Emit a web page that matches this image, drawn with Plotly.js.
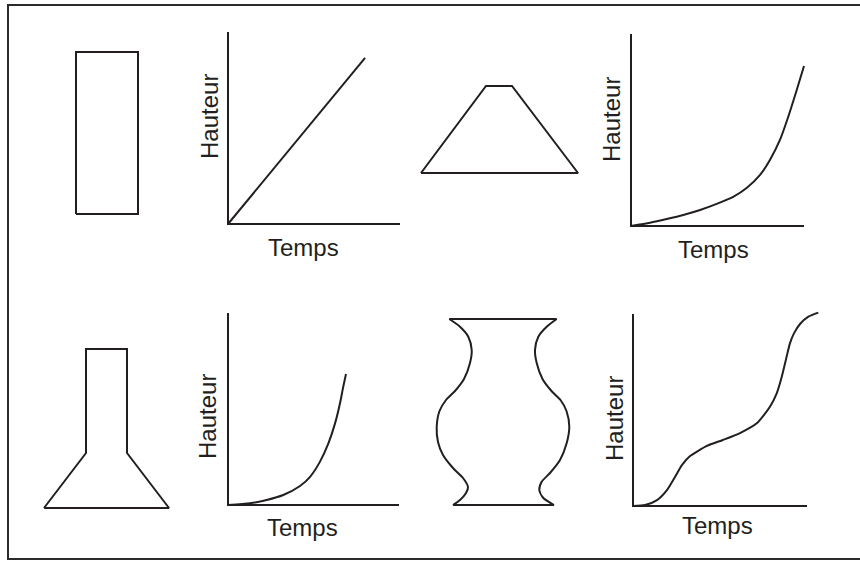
<!DOCTYPE html>
<html><head><meta charset="utf-8">
<script src="https://cdn.plot.ly/plotly-3.0.1.min.js"></script>
<style>html,body{margin:0;padding:0;background:#fff}#chart{width:860px;height:561px}</style>
</head><body><div id="chart"></div>
<script>
// ---------- DATA ----------
const labelTime = 'Temps';
const labelHeight = 'Hauteur';
const TMAX = 10, HMAX = 10;   // axis extent (arbitrary units)

// Height vs time for each vessel
const cylinderT = [0, 7.97];
const cylinderH = [0, 8.65];

const coneT = [0, 1.10, 2.06, 3.02, 3.99, 4.95, 5.93, 6.70, 7.46, 8.03, 8.61, 9.09, 9.58, 10.0];
const coneH = [0, 0.17, 0.36, 0.57, 0.83, 1.15, 1.53, 1.99, 2.66, 3.44, 4.48, 5.69, 7.08, 8.33];

const flaskT = [0, 1.29, 2.26, 3.23, 4.21, 4.80, 5.38, 5.87, 6.26, 6.55, 6.74, 6.90];
const flaskH = [0, 0.09, 0.26, 0.52, 0.99, 1.47, 2.26, 3.21, 4.25, 5.30, 6.16, 6.82];

const vaseT = [0, 0.69, 1.38, 1.95, 2.41, 2.82, 3.28, 4.25, 5.17, 6.15, 7.13, 7.87, 8.26, 8.55, 8.83, 9.02, 9.25, 9.60, 10.08, 10.65];
const vaseH = [0, 0.05, 0.31, 0.83, 1.51, 2.14, 2.60, 3.13, 3.44, 3.80, 4.32, 5.17, 5.87, 6.73, 7.78, 8.47, 8.99, 9.48, 9.86, 10.07];

// Vessel outlines (local drawing units)
const rectX = [0, 62, 62, 0, 0];
const rectY = [0, 0, 162, 162, 0];
const trapX = [0, 157, 91, 65, 0];
const trapY = [0, 0, 87, 87, 0];
const flaskX = [0, 125, 83, 83, 42, 42, 0];
const flaskY = [0, 0, 55, 159, 159, 55, 0];
const vaseLeftX  = [13.3, 24, 32.3, 35.7, 34, 28, 19, 10, 3.5, 0.7, 2, 7, 17, 27, 32, 30, 24, 17];
const vaseLeftY  = [186, 178.3, 168.3, 155, 142, 126, 114, 105, 94, 78.3, 63, 50, 37, 27, 18, 12, 5, 0];
const vaseRightX = [120.7, 110.7, 102.3, 99, 100.7, 106.5, 115.5, 124.5, 130.5, 133.3, 130.7, 124, 114, 105.7, 103.3, 107.3, 118];
const vaseRightY = [186, 178.3, 168.3, 155, 142, 126, 114, 105, 94, 78.3, 62, 45, 32, 23.3, 15, 7, 0];

// ---------- LAYOUT HELPERS ----------
const W = 860, H = 561;
const INK = '#231f20';
const FONT = 'Liberation Sans, Arial, Helvetica, sans-serif';

const hiddenAxis = {showgrid:false, zeroline:false, showticklabels:false, ticks:'', showline:false, fixedrange:true};

const layout = {
  width: W, height: H,
  margin: {l:0, r:0, t:0, b:0},
  paper_bgcolor: '#ffffff', plot_bgcolor: 'rgba(0,0,0,0)',
  showlegend: false, hovermode: false,
  shapes: [], annotations: []
};
const traces = [];

function chartPanel(n, box, t, h, padR) {
  const pad = 6, pr = padR || pad;
  const sx = TMAX / (box.r - box.l), sy = HMAX / (box.b - box.t);
  const xa = n === 1 ? 'xaxis' : 'xaxis' + n, ya = n === 1 ? 'yaxis' : 'yaxis' + n;
  const xr = n === 1 ? 'x' : 'x' + n, yr = n === 1 ? 'y' : 'y' + n;
  layout[xa] = Object.assign({}, hiddenAxis, {
    anchor: yr, domain: [(box.l - pad) / W, (box.r + pr) / W], range: [-pad * sx, TMAX + pr * sx]
  });
  layout[ya] = Object.assign({}, hiddenAxis, {
    anchor: xr, domain: [(H - box.b - pad) / H, (H - box.t + pad) / H], range: [-pad * sy, HMAX + pad * sy]
  });
  layout.shapes.push({type:'path', xref:xr, yref:yr,
    path: 'M0,' + HMAX + ' L0,0 L' + TMAX + ',0', line:{color:INK, width:2}});
  traces.push({x:t, y:h, xaxis:xr, yaxis:yr, mode:'lines',
    line:{color:INK, width:2, shape:'spline', smoothing:0.6}});
}

function vesselPanel(n, left, bottom, parts) {
  const pad = 4;
  let w = 0, h = 0;
  parts.forEach(p => { w = Math.max(w, ...p.x.filter(v => v !== null)); h = Math.max(h, ...p.y.filter(v => v !== null)); });
  const xa = 'xaxis' + n, ya = 'yaxis' + n, xr = 'x' + n, yr = 'y' + n;
  layout[xa] = Object.assign({}, hiddenAxis, {anchor: yr, domain: [(left - pad) / W, (left + w + pad) / W], range: [-pad, w + pad]});
  layout[ya] = Object.assign({}, hiddenAxis, {anchor: xr, domain: [(H - bottom - pad) / H, (H - bottom + h + pad) / H], range: [-pad, h + pad]});
  parts.forEach(p => traces.push({x:p.x, y:p.y, xaxis:xr, yaxis:yr, mode:'lines',
    line:{color:INK, width:2, shape:p.spline ? 'spline' : 'linear', smoothing:0.7}}));
}

function label(text, px, py, angle) {
  layout.annotations.push({text:text, xref:'paper', yref:'paper', x:px / W, y:1 - py / H,
    xanchor:'center', yanchor:'middle', showarrow:false, textangle:angle || 0,
    font:{family:FONT, size:24, color:INK}});
}

// ---------- BUILD ----------
chartPanel(1, {l:228, t:32,  r:400, b:224}, cylinderT, cylinderH);
chartPanel(2, {l:631, t:34,  r:804, b:226}, coneT, coneH);
chartPanel(3, {l:228, t:313, r:399, b:505}, flaskT, flaskH);
chartPanel(4, {l:633, t:314, r:807, b:506}, vaseT, vaseH, 16);
traces[0].line.shape = 'linear';

vesselPanel(5, 76, 214, [{x:rectX, y:rectY}]);
vesselPanel(6, 421, 173, [{x:trapX, y:trapY}]);
vesselPanel(7, 44, 508, [{x:flaskX, y:flaskY}]);
vesselPanel(8, 436, 505, [
  {x:vaseLeftX, y:vaseLeftY, spline:true},
  {x:vaseRightX, y:vaseRightY, spline:true},
  {x:[vaseLeftX[0], vaseRightX[0], null, vaseLeftX[vaseLeftX.length - 1], vaseRightX[vaseRightX.length - 1]],
   y:[vaseLeftY[0], vaseRightY[0], null, vaseLeftY[vaseLeftY.length - 1], vaseRightY[vaseRightY.length - 1]]}
]);

// Axis labels
label(labelTime, 303, 247); label(labelHeight, 210, 117, -90);
label(labelTime, 713, 249); label(labelHeight, 612, 120, -90);
label(labelTime, 302, 527); label(labelHeight, 207, 417, -90);
label(labelTime, 717, 525); label(labelHeight, 614, 419, -90);

// Outer frame (right edge lies beyond the image)
layout.shapes.push({type:'rect', xref:'paper', yref:'paper',
  x0: 8 / W, x1: 1.03, y0: (H - 559) / H, y1: (H - 5) / H, line:{color:'#2b2b2b', width:2}});

Plotly.newPlot('chart', traces, layout, {staticPlot:true, displayModeBar:false});
</script></body></html>
